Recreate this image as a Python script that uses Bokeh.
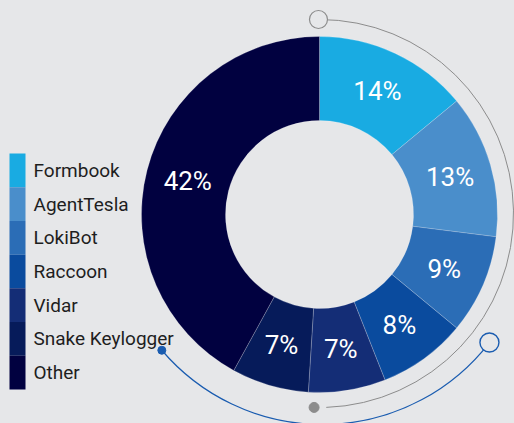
import math
from bokeh.plotting import figure
from bokeh.models import ColumnDataSource, Range1d
from bokeh.core.properties import value
from bokeh.embed import file_html
from bokeh.resources import INLINE

categories = ["Formbook", "AgentTesla", "LokiBot", "Raccoon", "Vidar", "Snake Keylogger", "Other"]
shares = [14, 13, 9, 8, 7, 7, 42]
colors = ["#19abe2", "#4a8ecb", "#2b6db6", "#0a4b9e", "#142d76", "#061b5a", "#010140"]

BG = "#e6e7e9"
W, H = 514, 423

p = figure(width=W, height=H, output_backend="svg", toolbar_location=None,
           x_range=Range1d(0, W), y_range=Range1d(0, H), min_border=0,
           background_fill_color=BG, border_fill_color=BG, outline_line_color=None)
p.axis.visible = False
p.grid.visible = False

# donut geometry (plot units == pixels)
cx, cy = 319, 209
r_in, r_out = 94, 178

total = sum(shares)
starts, ends, lx, ly, labels = [], [], [], [], []
acc = 0.0
for v in shares:
    a0 = math.pi / 2 - 2 * math.pi * acc / total
    a1 = math.pi / 2 - 2 * math.pi * (acc + v) / total
    starts.append(a0)
    ends.append(a1)
    mid = (a0 + a1) / 2
    rl = (r_in + r_out) / 2
    lx.append(cx + rl * math.cos(mid))
    ly.append(cy + rl * math.sin(mid))
    labels.append(f"{v}%")
    acc += v

src = ColumnDataSource(dict(start=starts, end=ends, color=colors, lx=lx, ly=ly, label=labels,
                            cat=categories))

# decorative arcs
gcx, gcy, gr = 319, 210, 194
p.arc(x=gcx, y=gcy, radius=gr, start_angle=math.radians(90), end_angle=math.radians(-88),
      direction="clock", line_color="#8c8c8c", line_width=1)
p.scatter(x=[gcx + gr * math.cos(math.radians(90.3))], y=[gcy + gr * math.sin(math.radians(90.3))],
          size=18, marker="circle", fill_color=BG, line_color="#8c8c8c", line_width=1.2)
p.scatter(x=[gcx + gr * math.cos(math.radians(-91.6))], y=[gcy + gr * math.sin(math.radians(-91.6))],
          size=10, marker="circle", fill_color="#8c8c8c", line_color="#8c8c8c")

bcx, bcy, br = 322, 210, 211
a_start, a_end = math.radians(-139.6), math.radians(-37.7)
p.arc(x=bcx, y=bcy, radius=br, start_angle=a_start, end_angle=a_end,
      direction="anticlock", line_color="#1a5cb0", line_width=1.2)
p.scatter(x=[bcx + br * math.cos(a_start)], y=[bcy + br * math.sin(a_start)],
          size=8, marker="circle", fill_color="#1a5cb0", line_color="#1a5cb0")
p.scatter(x=[bcx + br * math.cos(a_end)], y=[bcy + br * math.sin(a_end)],
          size=19, marker="circle", fill_color=BG, line_color="#1a5cb0", line_width=1.4)

# donut
p.annular_wedge(x=cx, y=cy, inner_radius=r_in, outer_radius=r_out,
                start_angle="start", end_angle="end", direction="clock",
                fill_color="color", line_color="white", line_alpha=0.35, line_width=0.6,
                source=src)
p.text(x="lx", y="ly", text="label", source=src, text_color="white",
       text_font=value("Roboto"), text_font_size="26px",
       text_align="center", text_baseline="middle")

# legend
top, bottom = 270, 34
seg = (top - bottom) / len(categories)
ltop = [top - i * seg for i in range(len(categories))]
lbot = [top - (i + 1) * seg for i in range(len(categories))]
lmid = [(a + b) / 2 for a, b in zip(ltop, lbot)]
lsrc = ColumnDataSource(dict(top=ltop, bottom=lbot, mid=lmid, color=colors, cat=categories))
p.quad(left=9, right=25, top="top", bottom="bottom", fill_color="color", line_color=None, source=lsrc)
p.text(x=33, y="mid", text="cat", source=lsrc, text_color="#1e1e1e",
       text_font=value("Roboto"), text_font_size="19px",
       text_align="left", text_baseline="middle")

html = file_html(p, INLINE)
html = html.replace("</head>", "<style>body{background:#e6e7e9;}</style></head>", 1)
open("out.html", "w").write(html)
